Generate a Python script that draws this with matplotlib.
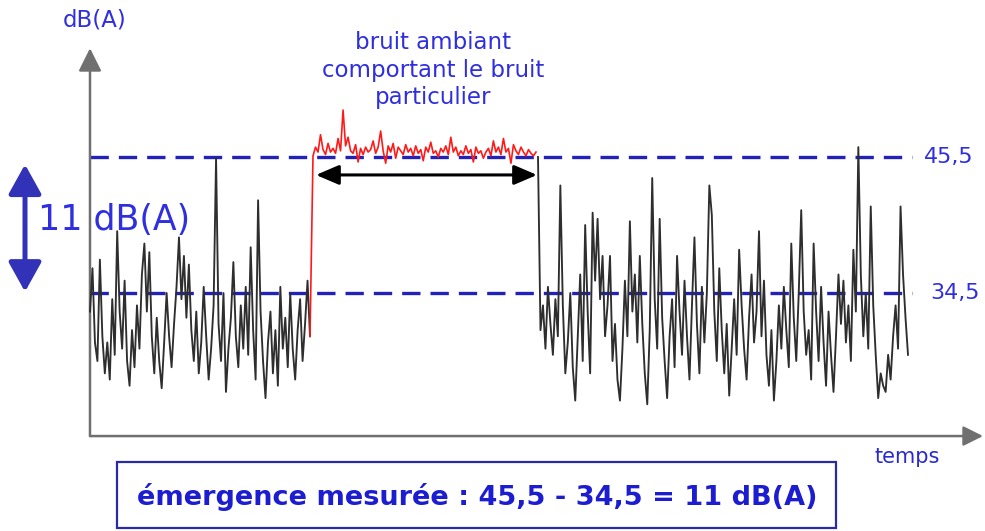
import matplotlib
matplotlib.use("Agg")

import numpy as np
import matplotlib.pyplot as plt
from matplotlib.patches import Rectangle

# levels read on the chart (dB(A))
LEVEL_HIGH = 45.5
LEVEL_LOW = 34.5
LEVEL_LABELS = ["45,5", "34,5"]

# residual noise before the particular noise (time 0 -> 220)
left_noise = [
    33.0, 36.5, 30.5, 29.0, 37.2, 31.0, 28.0, 30.5, 27.5, 34.0,
    29.5, 39.5, 33.0, 30.0, 35.5, 29.0, 27.0, 31.5, 28.5, 33.5,
    30.0, 36.0, 38.5, 33.0, 37.8, 31.0, 28.0, 32.5, 29.0, 26.8,
    30.5, 34.5, 31.0, 28.5, 32.0, 35.0, 39.0, 34.0, 37.5, 32.5,
    36.8, 31.5, 29.0, 33.0, 28.0, 30.5, 35.0, 31.0, 27.5, 30.0,
    33.5, 45.4, 32.0, 29.0, 34.5, 26.5, 30.0, 32.5, 37.0, 31.0,
    28.5, 33.5, 30.0, 35.0, 29.5, 38.2, 31.5, 27.5, 42.0, 33.0,
    29.0, 26.0, 30.5, 33.0, 28.0, 31.5, 27.0, 35.0, 30.0, 32.5,
    28.5, 34.5, 30.0, 27.5, 31.5, 34.0, 29.0, 32.0, 35.5, 31.0,
]

# ambient noise including the particular noise (time 223 -> 446)
ambient_noise = [
    45.6, 46.3, 45.9, 47.3, 46.1, 45.7, 46.6, 45.9, 46.2, 45.8,
    47.0, 46.0, 49.3, 46.4, 47.1, 46.0, 45.8, 46.5, 45.1, 46.2,
    45.7, 46.3, 45.9, 46.1, 46.8, 45.8, 46.3, 47.6, 46.0, 45.0,
    46.4, 45.9, 46.6, 45.4, 46.3, 46.0, 45.7, 46.5, 45.9, 46.2,
    45.6, 46.4, 45.8, 46.1, 45.2, 46.3, 45.9, 46.7, 45.8, 46.0,
    45.5, 46.2, 45.9, 46.4, 45.7, 47.1, 45.9, 46.3, 45.6, 46.0,
    45.7, 46.4, 45.8, 46.1, 45.1, 46.3, 45.8, 46.0, 45.4, 45.9,
    46.2, 45.6, 46.8, 45.9, 46.3, 45.7, 47.0, 45.9, 46.2, 45.0,
    46.5, 46.0, 45.7, 46.3, 45.9, 45.6, 46.1, 45.8, 45.6, 45.9,
]

# residual noise after (time 448 -> 818)
right_noise = [
    45.5, 31.5, 33.5, 30.0, 35.0, 32.0, 29.5, 34.0, 31.0, 43.2,
    33.5, 28.0, 30.5, 34.5, 28.5, 25.8, 31.0, 36.0, 29.0, 40.0,
    33.0, 28.0, 41.0, 35.5, 40.5, 34.0, 37.5, 31.0, 33.5, 37.5,
    29.0, 32.0, 27.5, 25.8, 30.0, 35.5, 31.0, 40.3, 33.0, 36.0,
    30.5, 37.5, 32.0, 28.0, 25.5, 31.5, 43.8, 34.0, 30.0, 40.5,
    32.5, 29.0, 26.0, 31.0, 34.0, 28.5, 37.5, 33.0, 29.5, 35.5,
    31.0, 27.5, 33.5, 39.0, 32.0, 28.0, 35.0, 30.5, 34.5, 43.2,
    40.8, 33.0, 29.0, 36.5, 31.5, 28.0, 32.0, 26.2, 30.0, 34.0,
    29.5, 38.0, 33.5, 30.0, 27.5, 32.5, 36.0, 30.5, 33.0, 39.5,
    31.0, 35.5, 29.5, 27.0, 31.5, 25.8, 29.0, 33.5, 30.0, 35.0,
    31.5, 28.5, 38.5, 32.5, 29.0, 34.5, 41.2, 33.0, 29.5, 31.5,
    27.5, 38.5, 33.0, 29.0, 35.0, 30.5, 27.0, 33.0, 29.5, 26.5,
    31.0, 36.0, 32.0, 35.5, 30.5, 33.5, 29.0, 38.0, 33.0, 46.3,
    36.0, 31.0, 34.5, 30.0, 41.5, 33.5, 29.5, 26.0, 28.0, 27.0,
    26.5, 29.5, 27.5, 31.0, 33.5, 30.0, 41.5, 36.0, 32.5, 29.5,
]

t_left = np.linspace(0, 220, len(left_noise))
t_amb = np.linspace(223, 446, len(ambient_noise))
t_right = np.linspace(448, 818, len(right_noise))

BLUE = "#2f2fe0"
DASH_BLUE = "#2222b8"
Y0 = 22.93  # time axis level

fig = plt.figure(figsize=(9.85, 5.31), dpi=100)
ax = fig.add_axes([0, 0, 1, 1])
ax.set_xlim(-90, 895)
ax.set_ylim(15.25, 58.2)
ax.axis("off")

# axes with arrows
ax.annotate("", xy=(0, 54.3), xytext=(0, Y0),
            arrowprops=dict(arrowstyle="-|>,head_length=0.7,head_width=0.35",
                            color="#707070", lw=1.8, mutation_scale=20,
                            shrinkA=0, shrinkB=0))
ax.annotate("", xy=(893, Y0), xytext=(0, Y0),
            arrowprops=dict(arrowstyle="-|>,head_length=0.6,head_width=0.3",
                            color="#707070", lw=1.8, mutation_scale=20,
                            shrinkA=0, shrinkB=0))

# dashed levels
for lvl in (LEVEL_HIGH, LEVEL_LOW):
    ax.plot([0, 822], [lvl, lvl], color=DASH_BLUE, lw=2.4,
            ls=(0, (5.5, 3.0)), zorder=2)

# signals
ax.plot(t_left, left_noise, color="#2e2e2e", lw=1.35, zorder=3)
ax.plot(np.r_[t_left[-1], t_amb], np.r_[left_noise[-1], ambient_noise],
        color="#ff1a1a", lw=1.2, zorder=3)
ax.plot(t_right, right_noise, color="#2e2e2e", lw=1.35, zorder=3)

# duration arrow of the particular noise
ax.annotate("", xy=(t_amb[-1] + 1, 44.05), xytext=(t_amb[0] + 3, 44.05),
            arrowprops=dict(arrowstyle="<|-|>,head_length=0.7,head_width=0.3",
                            color="black", lw=2.2, mutation_scale=20,
                            shrinkA=0, shrinkB=0), zorder=4)

# emergence arrow
ax.annotate("", xy=(-65, LEVEL_HIGH - 0.6), xytext=(-65, LEVEL_LOW + 0.1),
            arrowprops=dict(arrowstyle="<|-|>,head_length=0.9,head_width=0.5",
                            color="#3232b8", lw=3.6, mutation_scale=20,
                            shrinkA=0, shrinkB=0))

ax.text(-52, 40.4, "11 dB(A)", color=BLUE, fontsize=25, ha="left", va="center")
ax.text(5, 56.6, "dB(A)", color=BLUE, fontsize=16.5, ha="center", va="center")
ax.text(834, LEVEL_HIGH, LEVEL_LABELS[0], color=BLUE, fontsize=16, ha="left", va="center")
ax.text(840, LEVEL_LOW, LEVEL_LABELS[1], color=BLUE, fontsize=16, ha="left", va="center")
ax.text(343, 52.5, "bruit ambiant\ncomportant le bruit\nparticulier", color=BLUE,
        fontsize=16.5, ha="center", va="center", linespacing=1.25)
ax.text(817, 21.2, "temps", color="#2a2ad0", fontsize=15, ha="center", va="center")

ax.add_patch(Rectangle((27, 15.5), 719, 5.33, fill=False, edgecolor="#2a2aa8", lw=1.6))
ax.text(387, 18.0, "émergence mesurée : 45,5 - 34,5 = 11 dB(A)", color="#1c1cd0",
        fontsize=19.5, fontweight="bold", ha="center", va="center")

fig.savefig("out.png", dpi=100)
